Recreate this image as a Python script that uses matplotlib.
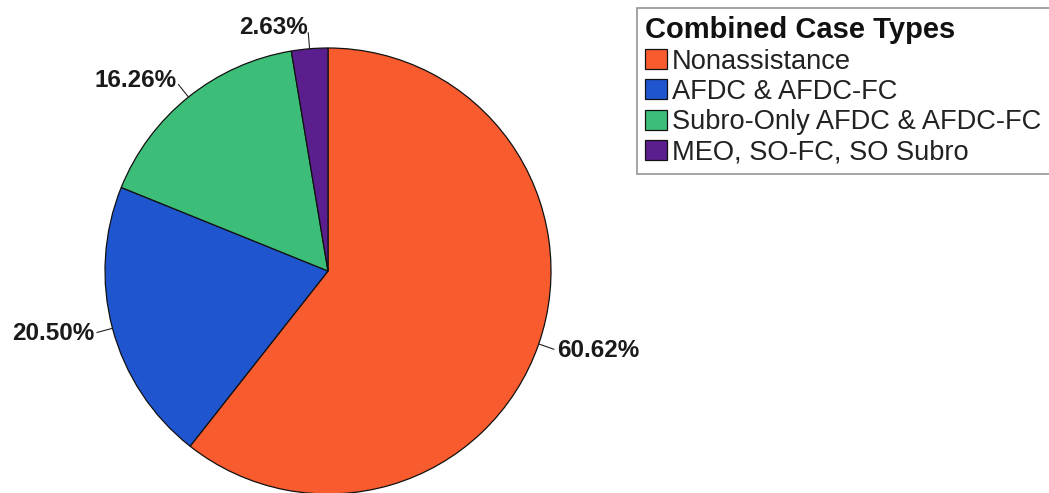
import numpy as np
import matplotlib
matplotlib.use("Agg")
import matplotlib.pyplot as plt

# Case mix by combined case type (percent of all cases)
categories = ["Nonassistance", "AFDC & AFDC-FC", "Subro-Only AFDC & AFDC-FC",
              "MEO, SO-FC, SO Subro"]
shares = [60.62, 20.50, 16.26, 2.63]
share_labels = ["60.62%", "20.50%", "16.26%", "2.63%"]
colors = ["#F85B2D", "#1F55CF", "#3DBE78", "#5B1E8E"]
legend_title = "Combined Case Types"

W, H = 1049, 493
fig = plt.figure(figsize=(W / 100, H / 100), dpi=100)
ax = fig.add_axes([0, 0, 1, 1])

label_family = ["Liberation Sans", "DejaVu Sans"]
text_family = ["Liberation Sans", "DejaVu Sans"]

cx, cy, r = 328, H - 271, 223
wedges, _ = ax.pie(shares, colors=colors, startangle=90, counterclock=False,
                   center=(cx, cy), radius=r, frame=True,
                   wedgeprops=dict(edgecolor="#111111", linewidth=0.9))
ax.set_xlim(0, W)
ax.set_ylim(0, H)
ax.set_aspect("auto")
ax.axis("off")

# percentage labels with short leader lines at the middle of each wedge
for w, lab in zip(wedges, share_labels):
    mid = np.deg2rad((w.theta1 + w.theta2) / 2)
    c, s = np.cos(mid), np.sin(mid)
    p0 = (cx + r * c, cy + r * s)
    p1 = (cx + (r + 16) * c, cy + (r + 16) * s)
    pt = (cx + (r + 19) * c, cy + (r + 21) * s)
    ax.plot([p0[0], p1[0]], [p0[1], p1[1]], color="#222222", lw=0.8)
    ha = "left" if c > 0 else "right"
    ax.text(pt[0], pt[1], lab, ha=ha, va="center", fontsize=17.5,
            fontweight="bold", family=label_family, color="#1a1a1a")

# legend box runs off the right edge of the figure
leg = fig.legend(wedges, categories, title=legend_title,
                 loc="upper left",
                 bbox_to_anchor=(637 / W, 1 - 8 / H, 425 / W, 0.0),
                 mode="expand", alignment="left",
                 prop=dict(family=text_family, size=19.6),
                 title_fontproperties=dict(family=text_family, size=21, weight="bold"),
                 frameon=True, fancybox=False, shadow=False,
                 handlelength=0.81, handleheight=0.74, handletextpad=0.18,
                 labelspacing=0.16, borderpad=0.3, borderaxespad=0)
frame = leg.get_frame()
frame.set_edgecolor("#7a7a7a")
frame.set_linewidth(1.2)
for t in leg.get_texts():
    t.set_color("#222222")
leg.get_title().set_color("#111111")
for h in leg.legend_handles:
    h.set_edgecolor("#111111")
    h.set_linewidth(0.9)

fig.savefig("out.png", dpi=100)
